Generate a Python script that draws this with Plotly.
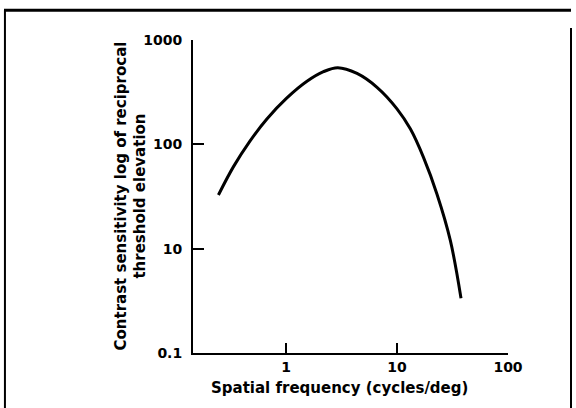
import plotly.graph_objects as go

# Contrast sensitivity curve (spatial frequency in cycles/deg vs sensitivity)
freq = [0.245, 0.334, 0.473, 0.670, 1.01, 1.54, 2.17, 2.92, 4.35, 6.59,
        9.98, 13.2, 17.3, 22.9, 30.2, 37.7]
sens = [32.7, 60.8, 108, 175, 277, 402, 497, 543, 478, 352,
        219, 140, 75, 33.3, 12.0, 3.35]

x_tick_vals = [1, 10, 100]
x_tick_text = ["1", "10", "100"]
y_tick_vals = [1, 10, 100, 1000]
y_tick_text = ["0.1", "10", "100", "1000"]

FONT = "DejaVu Sans"
TICK_FONT = dict(family=FONT, size=14, color="black", weight="bold")
TITLE_FONT = dict(family=FONT, size=15, color="black", weight="bold")

fig = go.Figure()
fig.add_trace(go.Scatter(
    x=freq, y=sens, mode="lines",
    line=dict(color="black", width=3, shape="spline", smoothing=1.0),
    hoverinfo="skip", showlegend=False,
))

fig.update_xaxes(
    type="log", range=[-0.84, 2.0],
    tickvals=x_tick_vals, ticktext=x_tick_text,
    ticks="inside", ticklen=10, tickwidth=2, tickcolor="black",
    showline=True, linecolor="black", linewidth=2,
    showgrid=False, zeroline=False,
    tickfont=TICK_FONT,
)
fig.update_yaxes(
    type="log", range=[0, 3],
    tickvals=y_tick_vals, ticktext=y_tick_text,
    ticks="inside", ticklen=11, tickwidth=2, tickcolor="black",
    showline=True, linecolor="black", linewidth=2,
    showgrid=False, zeroline=False,
    tickfont=TICK_FONT, ticklabelstandoff=6,
)

fig.add_annotation(
    text="Contrast sensitivity log of reciprocal<br>threshold elevation",
    xref="paper", yref="paper", x=-0.2, y=0.5,
    xanchor="center", yanchor="middle", textangle=-90,
    showarrow=False, align="center",
    font=TITLE_FONT,
)
fig.add_annotation(
    text="Spatial frequency (cycles/deg)",
    xref="paper", yref="paper", x=0.465, y=-0.112,
    xanchor="center", yanchor="middle",
    showarrow=False,
    font=TITLE_FONT,
)

# page frame
fig.add_shape(type="line", xref="paper", yref="paper",
              x0=-0.6, x1=1.2, y0=1.095, y1=1.095,
              line=dict(color="black", width=3))
fig.add_shape(type="line", xref="paper", yref="paper",
              x0=-0.597, x1=-0.597, y0=1.095, y1=-0.2,
              line=dict(color="black", width=2))
fig.add_shape(type="line", xref="paper", yref="paper",
              x0=1.2, x1=1.2, y0=1.038, y1=-0.2,
              line=dict(color="black", width=2))

fig.update_layout(
    width=576, height=408,
    margin=dict(l=193, r=68, t=40, b=55),
    paper_bgcolor="white", plot_bgcolor="white",
)

fig.write_html("out.html")
